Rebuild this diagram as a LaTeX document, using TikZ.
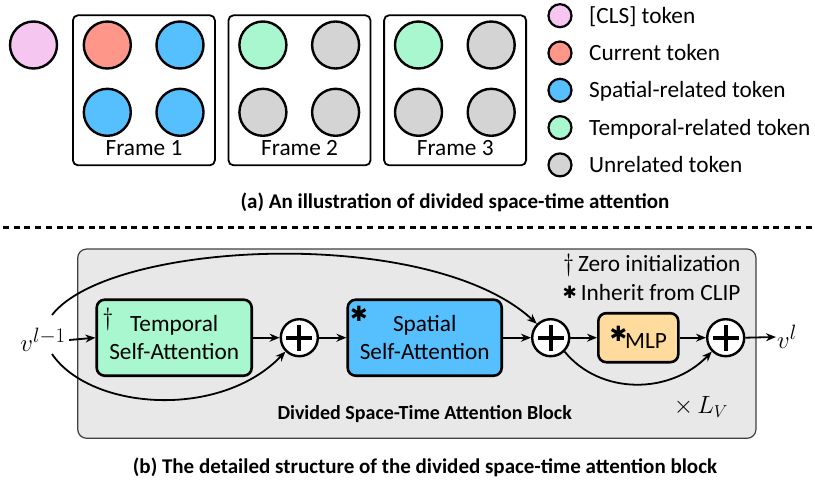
\documentclass[tikz,border=0pt]{standalone}
\usepackage[no-math]{fontspec}
\setmainfont{Carlito}
\newfontfamily\symfont{DejaVu Sans}
\usetikzlibrary{arrows.meta}
\definecolor{clscol}{HTML}{F5C6F0}
\definecolor{curcol}{HTML}{FF968A}
\definecolor{spacol}{HTML}{56C0FF}
\definecolor{temcol}{HTML}{A8F7CF}
\definecolor{unrcol}{HTML}{D4D4D4}
\definecolor{mlpcol}{HTML}{FFDC9E}
\definecolor{blkcol}{HTML}{E8E8E8}
\tikzset{
  tok/.style={circle,draw,line width=2.4pt,minimum size=47pt,inner sep=0pt},
  key/.style={circle,draw,line width=2.2pt,minimum size=23pt,inner sep=0pt},
  frm/.style={draw,line width=1.8pt,rounded corners=5pt,fill=white,minimum width=142pt,minimum height=150pt},
  blk/.style={draw,line width=2.6pt,rounded corners=8pt,align=center,inner sep=0pt},
  sum/.style={circle,draw,line width=2.4pt,fill=white,minimum size=37pt,inner sep=0pt,
    path picture={\draw[line width=3.8pt]
      ([xshift=-13pt]path picture bounding box.center) -- ([xshift=13pt]path picture bounding box.center)
      ([yshift=-13pt]path picture bounding box.center) -- ([yshift=13pt]path picture bounding box.center);}},
}
% heavy asterisk: weights inherited from CLIP
\newcommand{\inh}[1]{{\symfont\fontsize{#1}{#1}\selectfont ✱}}
\begin{document}
\begin{tikzpicture}[x=1pt,y=-1pt,>={Stealth[length=10pt,width=8pt]},line join=round,font=\fontsize{23.3}{28}\selectfont]
\useasboundingbox (0,0) rectangle (815,480);
% (a) tokens of three frames
\node[tok,fill=clscol] (cls) at (33.5,45) {};
\foreach \i/\off/\ca/\cb/\cc/\cd in {1/0/curcol/spacol/spacol/spacol,
    2/155.6/temcol/unrcol/unrcol/unrcol,3/311.2/temcol/unrcol/unrcol/unrcol}{
  \node[frm] (fr\i) at ({143.9+\off},90.3) {};
  \node[tok,fill=\ca] (t\i-1) at ({107.3+\off},45) {};
  \node[tok,fill=\cb] (t\i-2) at ({180+\off},45) {};
  \node[tok,fill=\cc] (t\i-3) at ({107.3+\off},112.3) {};
  \node[tok,fill=\cd] (t\i-4) at ({180+\off},112.3) {};
  \node[anchor=base] (lb\i) at ({144+\off},155) {Frame \i};
}
% legend
\foreach \c/\t [count=\k from 0] in {clscol/{[CLS] token},curcol/{Current token},
    spacol/{Spatial-related token},temcol/{Temporal-related token},unrcol/{Unrelated token}}{
  \node[key,fill=\c] (k\k) at (560,{15.7+37.3*\k}) {};
  \node[anchor=base west,inner sep=0pt] (kt\k) at (589,{23.2+37.3*\k}) {\t};
}
\node[anchor=base,font=\fontsize{21}{24}\selectfont\bfseries] (capa) at (455,208.3)
  {(a) An illustration of divided space-time attention};
\draw[line width=3pt,dash pattern=on 6pt off 4.7pt] (3,227.3) -- (815,227.3);
% (b) one block
\draw[fill=blkcol,draw=black!75,line width=1.2pt,rounded corners=9pt] (77.7,249) rectangle (756,438.3);
\node[blk,fill=temcol,minimum width=155pt,minimum height=76pt] (tem) at (174.2,337.7) {Temporal\\Self-Attention};
\node[blk,fill=spacol,minimum width=154pt,minimum height=76pt] (spa) at (424.7,337.7) {Spatial\\Self-Attention};
\node[blk,fill=mlpcol,minimum width=80pt,minimum height=49pt] (mlp) at (638.3,337.7)
  {\raisebox{7pt}{\inh{21}}\kern-2pt MLP};
\node[font=\fontsize{29}{29}\selectfont] (tdag) at (108,319) {$\dagger$};
\node[inner sep=0pt] (sast) at (359,314) {\inh{21}};
\node[sum] (sum1) at (299.3,337.7) {};
\node[sum] (sum2) at (550.7,337.7) {};
\node[sum] (sum3) at (725.7,337.7) {};
\node[font=\fontsize{29}{29}\selectfont] (vin) at (43,340) {$v^{l-1}$};
\node[font=\fontsize{29}{29}\selectfont,inner sep=1pt] (vout) at (787,337) {$v^{l}$};
\coordinate (vup) at (52,315);
\coordinate (vdn) at (52,354);
\draw[line width=1.8pt,->] (vin.east) -- (tem.west);
\draw[line width=1.8pt,->] (tem.east) -- (sum1.west);
\draw[line width=1.8pt,->] (sum1.east) -- (spa.west);
\draw[line width=1.8pt,->] (spa.east) -- (sum2.west);
\draw[line width=1.8pt,->] (sum2.east) -- (mlp.west);
\draw[line width=1.8pt,->] (mlp.east) -- (sum3.west);
\draw[line width=1.8pt,->] (sum3.east) -- (vout.west);
\draw[line width=1.8pt,->] (vup) .. controls (110,240) and (430,225) .. (sum2.north west);
\draw[line width=1.8pt,->] (vdn) .. controls (90,410) and (220,420) .. (sum1.south west);
\draw[line width=1.8pt,->] (sum2.south east) .. controls (600,395) and (670,395) .. (sum3.south west);
\node[anchor=base east,inner sep=0pt] (zero) at (740.7,271.7) {$\dagger$\,Zero initialization};
\node[anchor=base east,inner sep=0pt] (clip) at (740.7,300) {\raisebox{1.5pt}{\inh{17}}\,Inherit from CLIP};
\node[anchor=base,font=\fontsize{25}{25}\selectfont] (rep) at (701,413.3) {$\times\,L_V$};
\node[anchor=base,font=\fontsize{20}{24}\selectfont\bfseries] (btit) at (424.7,419.3)
  {Divided Space-Time Attention Block};
\node[anchor=base,font=\fontsize{21}{24}\selectfont\bfseries] (capb) at (425,473.3)
  {(b) The detailed structure of the divided space-time attention block};
\end{tikzpicture}
\end{document}
